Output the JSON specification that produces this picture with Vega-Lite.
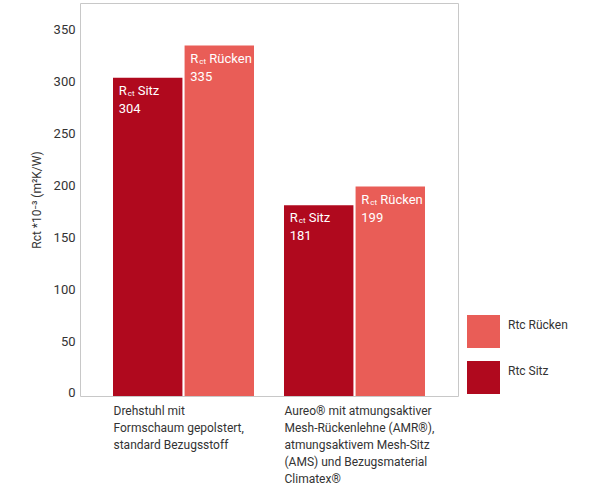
{
  "$schema": "https://vega.github.io/schema/vega-lite/v6.json",
  "width": 378,
  "height": 393,
  "autosize": {"type": "none"},
  "padding": {"left": 80, "top": 3, "right": 133, "bottom": 97},
  "background": "white",
  "config": {
    "view": {"stroke": "#c8c8c8", "strokeWidth": 1},
    "font": "Liberation Sans Narrow, Roboto, sans-serif",
    "axis": {"grid": false, "domain": false, "ticks": false, "labelColor": "#333333", "titleColor": "#333333"}
  },
  "data": {
    "values": [
      {"gruppe": "Drehstuhl mit\nFormschaum gepolstert,\nstandard Bezugsstoff", "serie": "Sitz", "wert": 304},
      {"gruppe": "Drehstuhl mit\nFormschaum gepolstert,\nstandard Bezugsstoff", "serie": "Rücken", "wert": 335},
      {"gruppe": "Aureo® mit atmungsaktiver\nMesh-Rückenlehne (AMR®),\natmungsaktivem Mesh-Sitz\n(AMS) und Bezugsmaterial\nClimatex®", "serie": "Sitz", "wert": 181},
      {"gruppe": "Aureo® mit atmungsaktiver\nMesh-Rückenlehne (AMR®),\natmungsaktivem Mesh-Sitz\n(AMS) und Bezugsmaterial\nClimatex®", "serie": "Rücken", "wert": 199}
    ]
  },
  "encoding": {
    "x": {
      "field": "gruppe", "type": "nominal", "sort": null,
      "scale": {"paddingInner": 0.1754, "paddingOuter": 0.193},
      "axis": {
        "title": null, "labelAngle": 0, "labelAlign": "left", "labelBaseline": "top",
        "labelOffset": -70, "labelPadding": 9, "labelLineHeight": 17, "labelFontSize": 12,
        "labelLimit": 0, "labelOverlap": false,
        "labelExpr": "split(datum.label, '\\n')"
      }
    },
    "xOffset": {"field": "serie", "type": "nominal", "scale": {"domain": ["Sitz", "Rücken"], "paddingInner": 0.03}},
    "y": {
      "field": "wert", "type": "quantitative",
      "scale": {"domain": [-3, 376], "nice": false, "zero": false},
      "axis": {
        "values": [0, 50, 100, 150, 200, 250, 300, 350],
        "labelFontSize": 13, "labelPadding": 5,
        "title": "Rct *10⁻³ (m²K/W)", "titleFontSize": 12, "titleFontWeight": "normal", "titlePadding": 10
      }
    }
  },
  "layer": [
    {
      "mark": {"type": "bar"},
      "encoding": {
        "y2": {"datum": -3},
        "color": {
          "field": "serie", "type": "nominal",
          "scale": {"domain": ["Rücken", "Sitz"], "range": ["#E95D57", "#B0091E"]},
          "legend": {
            "title": null, "orient": "none", "legendX": 387, "legendY": 312,
            "symbolType": "square", "symbolSize": 1089, "symbolStrokeWidth": 0,
            "rowPadding": 13, "labelFontSize": 12, "labelColor": "#333333",
            "labelOffset": 8, "labelBaseline": "bottom",
            "labelExpr": "'Rtc ' + datum.label"
          }
        }
      }
    },
    {
      "mark": {"type": "text", "align": "left", "baseline": "alphabetic", "dx": -29, "dy": 17, "fontSize": 13, "color": "white"},
      "encoding": {"text": {"value": "R"}}
    },
    {
      "mark": {"type": "text", "align": "left", "baseline": "alphabetic", "dx": -20, "dy": 18, "fontSize": 8, "color": "white"},
      "encoding": {"text": {"value": "ct"}}
    },
    {
      "mark": {"type": "text", "align": "left", "baseline": "alphabetic", "dx": -10, "dy": 17, "fontSize": 13, "color": "white"},
      "encoding": {"text": {"field": "serie"}}
    },
    {
      "mark": {"type": "text", "align": "left", "baseline": "alphabetic", "dx": -29, "dy": 35, "fontSize": 13, "color": "white"},
      "encoding": {"text": {"field": "wert"}}
    }
  ]
}
